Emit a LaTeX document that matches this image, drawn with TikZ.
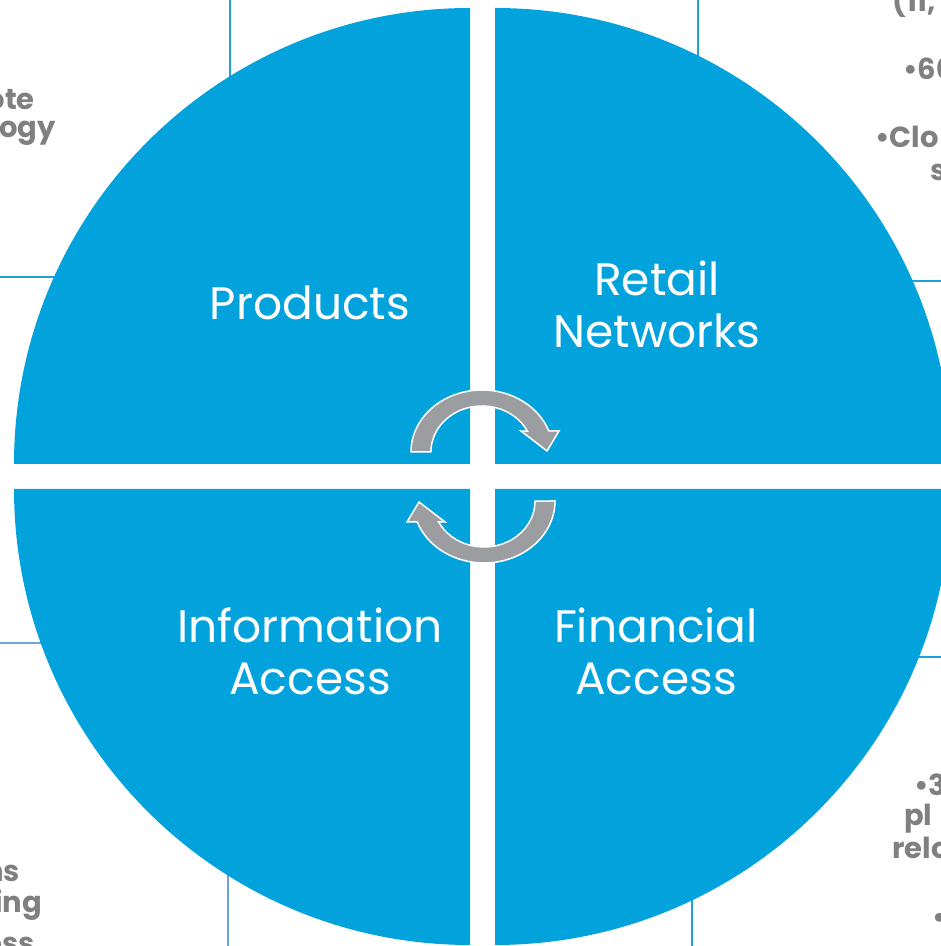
\documentclass[tikz,border=0pt]{standalone}
\usepackage{fontspec}
\setmainfont{Poppins}
\definecolor{cblue}{RGB}{2,163,221}
\definecolor{lblue}{RGB}{30,160,220}
\definecolor{pblue}{RGB}{115,162,216}
\definecolor{agray}{RGB}{155,157,160}
\definecolor{tgray}{RGB}{128,128,128}
\newcommand\cycarrow[1]{%
  \path[cyc] (-72,24.5) arc[start angle=180,end angle=19.8,x radius=71,y radius=62]
    -- (76,45.5) -- (64,25.5) -- (38,45.5) -- (44.4,45.4)
    arc[start angle=27,end angle=180,x radius=51,y radius=46] -- cycle;}
\begin{document}
\begin{tikzpicture}[x=1pt,y=1pt,
  quad/.style={fill=cblue},
  frame/.style={draw=lblue, line width=2pt},
  pframe/.style={draw=pblue, line width=2pt},
  lbl/.style={text=white, align=center, inner sep=0pt, font=\fontsize{45.5}{52}\selectfont},
  side/.style={text=tgray, inner sep=0pt, font=\bfseries\fontsize{29}{34}\selectfont},
  cyc/.style={fill=agray, draw=white, line width=1.5pt}]
\useasboundingbox (0,0) rectangle (941,946);
\clip (0,0) rectangle (941,946);
\fill[white] (0,0) rectangle (941,946);
% frames of the corner boxes
\draw[frame] (-5,669) -- (230,669) -- (230,950);
\draw[frame] (698,950) -- (698,665) -- (950,665);
\draw[frame] (692,-5) -- (692,289) -- (950,289);
\draw[pframe] (-5,303) -- (228,303) -- (228,-5);
% corner texts (cut by the border, as in the reference)
\node[side, anchor=base east] (tl1) at (35,836) {ote};
\node[side, anchor=base east] (tl2) at (56,808) {logy};
\node[side, anchor=base west] (tr1) at (892,934) {(11,};
\node[side, anchor=base west] (tr2) at (903,866) {•60};
\node[side, anchor=base west] (tr3) at (875,798) {•Clo};
\node[side, anchor=base west] (tr4) at (930,765) {s};
\node[side, anchor=base west] (br1) at (914,150) {•3};
\node[side, anchor=base west] (br2) at (904,120) {pl};
\node[side, anchor=base west] (br3) at (892,87) {relo};
\node[side, anchor=base west] (br4) at (932,18) {•};
\node[side, anchor=base east] (bl1) at (20,64) {ns};
\node[side, anchor=base east] (bl2) at (42,34) {ing};
\node[side, anchor=base east] (bl3) at (35,-7) {ess};
% quadrants
\fill[quad] (470,482) -- ++(0,456) arc[start angle=90,end angle=180,radius=456] -- cycle;
\fill[quad] (495,482) -- ++(456,0) arc[start angle=0,end angle=90,radius=456] -- cycle;
\fill[quad] (470,457) -- ++(-456,0) arc[start angle=180,end angle=270,radius=456] -- cycle;
\fill[quad] (495,457) -- ++(0,-456) arc[start angle=270,end angle=360,radius=456] -- cycle;
% labels
\node[lbl] (prod) at (310,643) {Products};
\node[lbl] (retail) at (657,642) {Retail\\Networks};
\node[lbl] (info) at (310,294.5) {Information\\Access};
\node[lbl] (fin) at (656,294.5) {Financial\\Access};
% cycle arrows
\begin{scope}[shift={(483,469.5)}]
  \cycarrow{}
\end{scope}
\begin{scope}[shift={(483,469.5)}, rotate=180]
  \cycarrow{}
\end{scope}
\end{tikzpicture}
\end{document}
